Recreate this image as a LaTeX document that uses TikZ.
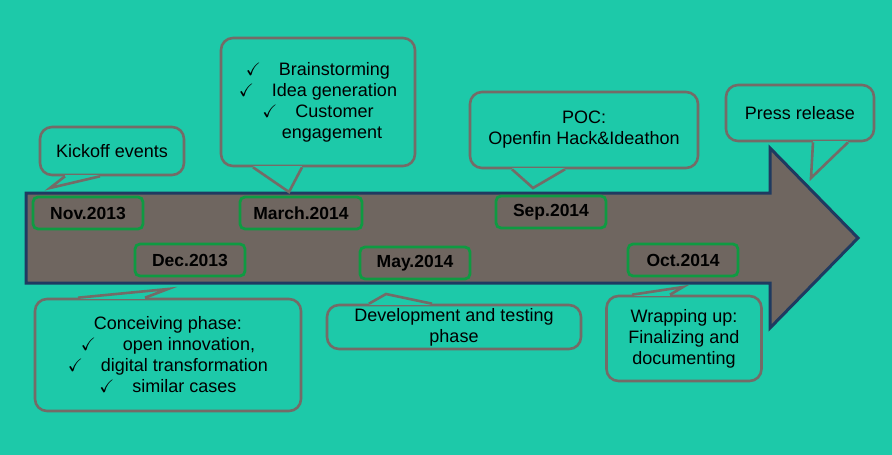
\documentclass[tikz,border=0pt]{standalone}
\usepackage{amssymb}
\usepackage{fontspec}
\setmainfont{Liberation Sans}
\usepackage{xcolor}
\definecolor{bg}{HTML}{1DC9A9}
\definecolor{shaftfill}{HTML}{6F6660}
\definecolor{shaftline}{HTML}{1F3A60}
\definecolor{bubblegray}{HTML}{746B67}
\definecolor{dategreen}{HTML}{0F9A42}
\tikzset{
  bubble/.style={
    draw=bubblegray, line width=2.6pt, fill=bg,
    rounded corners=12pt, align=center, inner sep=0pt,
    font=\fontsize{18}{21}\selectfont}}
\tikzset{
  datebox/.style={
    draw=dategreen, line width=2.8pt, rounded corners=5pt,
    minimum width=110, minimum height=32, inner sep=0pt,
    font=\fontsize{17.5}{20}\selectfont\bfseries}}
\tikzset{
  tailline/.style={draw=bubblegray, line width=2.6pt, line join=miter}}
\newcommand{\bubbletail}[3]{%
  \fill[bg] (#1) -- (#2) -- (#3) -- cycle;
  \draw[bg, line width=3.4pt] (#1) -- (#3);
  \draw[tailline] (#1) -- (#2) -- (#3);}

\begin{document}
\begin{tikzpicture}[x=1pt,y=-1pt]
    \fill[bg] (0,0) rectangle (892,455);
    \useasboundingbox (0,0) rectangle (892,455);
    % timeline arrow
    \draw[fill=shaftfill, draw=shaftline, line width=3pt, line join=miter]
    (26,193) -- (770,193) -- (770,148) -- (858,238) -- (770,328) -- (770,283) -- (26,283) -- cycle;
    \begin{scope}
        \node[datebox](nov) at (88,213) {Nov.2013};
        \node[datebox](dec) at (190,260) {Dec.2013};
        \node[datebox, minimum width=122](mar) at (301,213) {March.2014};
        \node[datebox](may) at (415,263) {May.2014};
        \node[datebox](sep) at (551,212) {Sep.2014};
        \node[datebox](oct) at (683,260) {Oct.2014};
    \end{scope}
    % callouts above
    \node[bubble, minimum width=144, minimum height=48](kick) at (112,151) {Kickoff events};
    \coordinate (kickT) at (50,188);
    \bubbletail{kick.south -| 65,0}{kickT}{kick.south -| 100,0}
    \node[bubble, minimum width=194, minimum height=128](brain) at (318,102)
        {$\checkmark$\quad Brainstorming\\
         $\checkmark$\quad Idea generation\\
         $\checkmark$\quad Customer\\
         \hspace*{28pt}engagement};
    \coordinate (brainT) at (289,192);
    \bubbletail{brain.south -| 253,0}{brainT}{brain.south -| 302,0}
    \node[bubble, minimum width=228, minimum height=76](poc) at (584,130)
        {POC:\\Openfin Hack\&Ideathon};
    \coordinate (pocT) at (533,188);
    \bubbletail{poc.south -| 512,0}{pocT}{poc.south -| 565,0}
    \node[bubble, minimum width=148, minimum height=56](press) at (800,113) {Press release};
    \coordinate (pressT) at (811,178);
    \bubbletail{press.south -| 813,0}{pressT}{press.south -| 848,0}
    % callouts below
    \node[bubble, minimum width=266, minimum height=112](conc) at (168,355)
        {Conceiving phase:\\
         $\checkmark$\quad\hspace{4pt} open innovation,\\
         $\checkmark$\quad digital transformation\\
         $\checkmark$\quad similar cases};
    \coordinate (concT) at (168,289);
    \bubbletail{conc.north -| 78,0}{concT}{conc.north -| 145,0}
    \node[bubble, minimum width=254, minimum height=44](dev) at (454,327)
        {Development and testing\\phase};
    \coordinate (devT) at (386,294);
    \bubbletail{dev.north -| 369,0}{devT}{dev.north -| 432,0}
    \node[bubble, minimum width=155, minimum height=85](wrap) at (684,338.5)
        {Wrapping up:\\Finalizing and\\documenting};
    \coordinate (wrapT) at (683,287);
    \bubbletail{wrap.north -| 632,0}{wrapT}{wrap.north -| 670,0}
\end{tikzpicture}
\end{document}
